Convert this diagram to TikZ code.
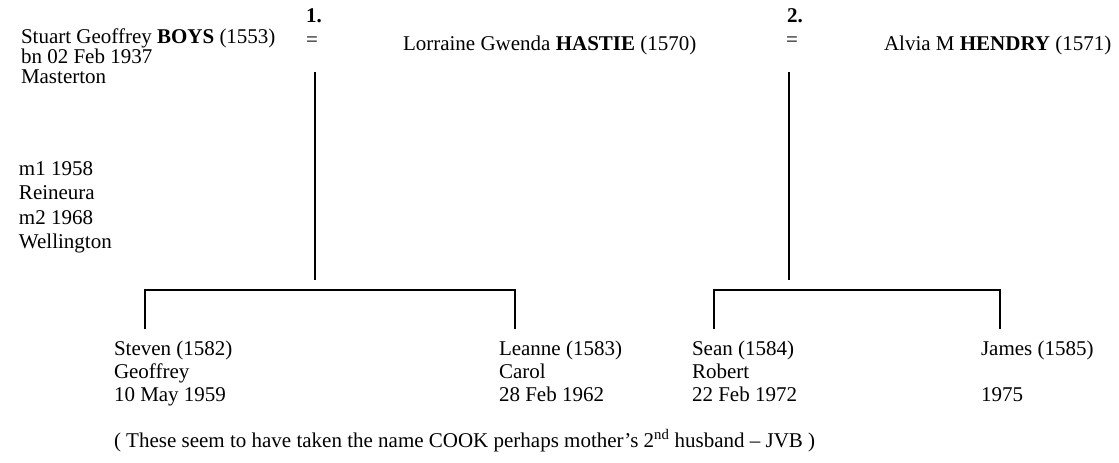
\documentclass[tikz,border=0pt]{standalone}
\usepackage{fontspec}
\setmainfont{Liberation Serif}

\begin{document}
\begin{tikzpicture}[x=1pt, y=-1pt, line width=2pt,
    every node/.style={inner sep=0pt, anchor=base west, font=\fontsize{21}{24.5}\selectfont},
    entry/.style={align=left},
    kid/.style={align=left, font=\fontsize{21}{23.3}\selectfont}]
  \useasboundingbox (0,0) rectangle (1119,463);
  % father and the two wives (multi-line nodes sit on their last line)
  \node[entry, font=\fontsize{21}{20.2}\selectfont] (boys) at (20,83.4)
    {Stuart Geoffrey \textbf{BOYS} (1553)\\ bn 02 Feb 1937\\ Masterton};
  \node[entry] (marr) at (18,248.5) {m1 1958\\ Reineura\\ m2 1968\\ Wellington};
  \node (one) at (305,22) {\textbf{1.}};
  \node (eqone) at (305,46) {=};
  \node (hastie) at (402,50) {Lorraine Gwenda \textbf{HASTIE} (1570)};
  \node (two) at (786,22) {\textbf{2.}};
  \node (eqtwo) at (785,46) {=};
  \node (hendry) at (883,50) {Alvia M \textbf{HENDRY} (1571)};
  % children
  \node[kid] (steven) at (113,401.6) {Steven (1582)\\ Geoffrey\\ 10 May 1959};
  \node[kid] (leanne) at (498,401.6) {Leanne (1583)\\ Carol\\ 28 Feb 1962};
  \node[kid] (sean) at (691,401.6) {Sean (1584)\\ Robert\\ 22 Feb 1972};
  \node[kid] (james) at (980,401.6) {James (1585)\\ \mbox{}\\ 1975};
  \node (note) at (113,447)
    {( These seem to have taken the name COOK perhaps mother’s 2\textsuperscript{nd} husband – JVB )};
  % descent lines
  \coordinate (topone) at (315,72);
  \coordinate (botone) at (315,280);
  \coordinate (toptwo) at (789,72);
  \coordinate (bottwo) at (789,280);
  \coordinate (stevenup) at (145,290);
  \coordinate (leanneup) at (515,290);
  \coordinate (seanup) at (714,290);
  \coordinate (jamesup) at (1000,290);
  \draw (topone) -- (botone);
  \draw (toptwo) -- (bottwo);
  \draw ([yshift=-39pt]stevenup) -- (stevenup) -- (leanneup) -- ++(0,39);
  \draw ([yshift=-39pt]seanup) -- (seanup) -- (jamesup) -- ++(0,39);
\end{tikzpicture}
\end{document}
